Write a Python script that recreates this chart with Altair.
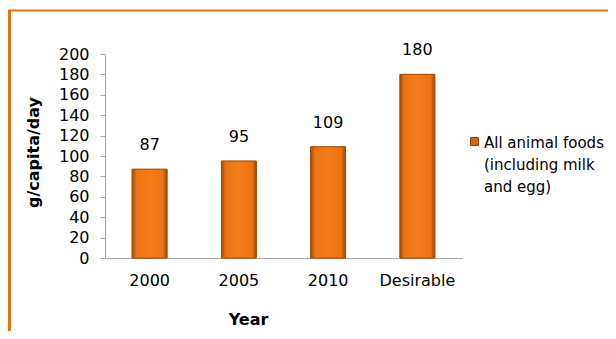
import altair as alt
import pandas as pd

categories = ["2000", "2005", "2010", "Desirable"]
values = [87, 95, 109, 180]
series = "All animal foods (including milk and egg)"
legend_lines = ["All animal foods", "(including milk", "and egg)"]
y_ticks = list(range(0, 201, 20))

df = pd.DataFrame({"Year": categories, "value": values, "series": [series] * len(categories)})

FONT = "DejaVu Sans"
FS = 16
W, H = 357, 204
PADL, PADT = 97, 46
DY = -6

grad = {
    "gradient": "linear",
    "x1": 0, "y1": 0, "x2": 1, "y2": 0,
    "stops": [
        {"offset": 0, "color": "#9C4A07"},
        {"offset": 0.12, "color": "#EC7314"},
        {"offset": 0.5, "color": "#F27C18"},
        {"offset": 0.88, "color": "#EC7314"},
        {"offset": 1, "color": "#9C4A07"},
    ],
}

x_enc = alt.X(
    "Year:N",
    sort=categories,
    scale=alt.Scale(paddingInner=0.61, paddingOuter=0.305),
    axis=alt.Axis(
        title="Year", labelAngle=0, ticks=False, domainColor="#A6A6A6",
        labelFont=FONT, labelFontSize=FS, labelColor="black", labelPadding=14 - DY,
        titleFont=FONT, titleFontSize=FS, titleFontWeight="bold", titleColor="black",
        titleX=143, titleY=61, titleBaseline="middle", titleAnchor="middle", titleAlign="center",
    ),
)
y_enc = alt.Y(
    "value:Q",
    scale=alt.Scale(domain=[0, 200]),
    axis=alt.Axis(
        title="g/capita/day", values=y_ticks, tickCount=11, grid=False, domainColor="#A6A6A6",
        tickColor="#A6A6A6", tickSize=5, labelOverlap=False, labelOffset=-DY,
        labelFont=FONT, labelFontSize=FS, labelColor="black", labelPadding=11,
        titleFont=FONT, titleFontSize=FS, titleFontWeight="bold", titleColor="black",
        titleX=-72, titleY=98, titleBaseline="middle", titleAngle=270, titleAlign="center",
    ),
)

legend_bars = alt.Chart(df).mark_bar(stroke="#A04C08", strokeWidth=1).encode(
    x=x_enc,
    y=y_enc,
    color=alt.Color(
        "series:N",
        scale=alt.Scale(range=["#D8660E"]),
        legend=alt.Legend(
            title=None, orient="none", legendX=362, legendY=80, padding=0,
            symbolType="square", symbolSize=64, symbolStrokeColor="#8A4206", symbolStrokeWidth=1,
            labelFont=FONT, labelFontSize=15, labelColor="black", labelLimit=300,
            labelBaseline="top", labelOffset=2,
            labelExpr="['" + "','".join(legend_lines) + "']",
        ),
    ),
)

grad_bars = alt.Chart(df).mark_bar(fill=grad, stroke="#A04C08", strokeWidth=0.8).encode(
    x=x_enc,
    y=y_enc,
)

labels = alt.Chart(df).mark_text(
    font=FONT, fontSize=FS, color="black", dy=-24, baseline="middle"
).encode(
    x=x_enc,
    y=y_enc,
    text=alt.Text("value:Q"),
)

frame = pd.DataFrame({"a": [0]})
border_left = alt.Chart(frame).mark_rule(color="#E8720C", strokeWidth=3).encode(
    x=alt.value(-PADL + 1.5), y=alt.value(-PADT + 2), y2=alt.value(H + 80)
)
border_top = alt.Chart(frame).mark_rule(color="#E8720C", strokeWidth=2).encode(
    x=alt.value(-PADL), x2=alt.value(W + 160), y=alt.value(-PADT + 2.5)
)

chart = alt.layer(legend_bars, grad_bars, labels, border_left, border_top).properties(
    width=W, height=H,
    autosize=alt.AutoSizeParams(type="none"),
    padding={"left": PADL, "top": PADT, "right": 600 - PADL - W, "bottom": 323 - PADT - H},
).configure(
    style={"guide-label": {"lineHeight": 22, "dy": DY}}
).configure_axisY(labelOverlap=False).configure_view(strokeWidth=0)

chart.save("out.html", embed_options={"renderer": "svg", "actions": False})
